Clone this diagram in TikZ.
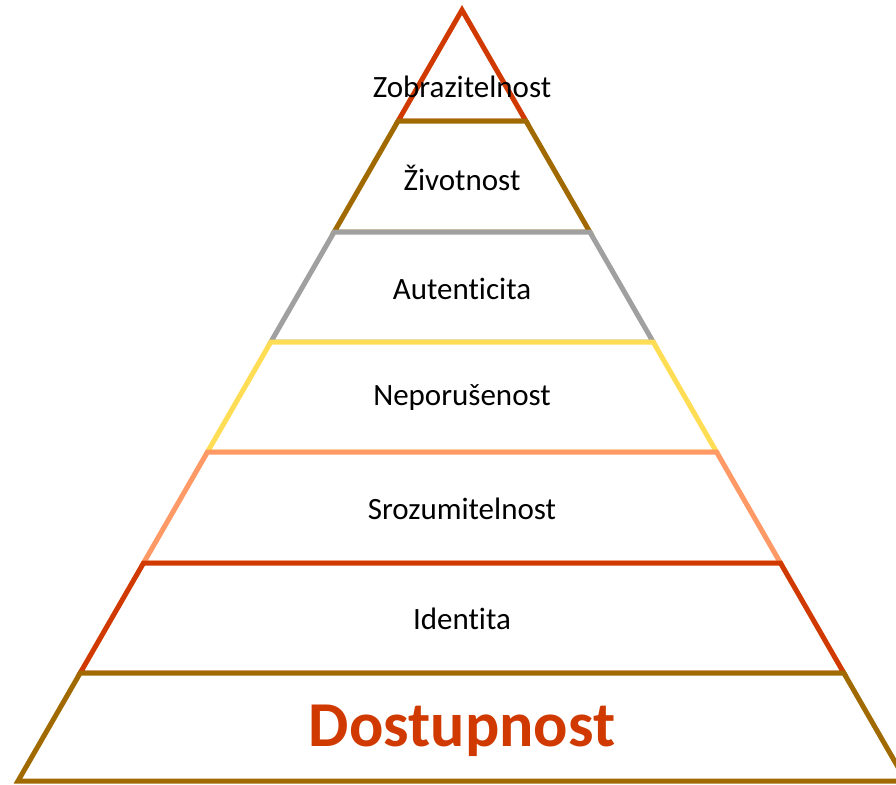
\documentclass[tikz,border=0pt]{standalone}
\usepackage{fontspec}
\setmainfont[Ligatures=NoCommon]{Carlito}
\usetikzlibrary{calc}
\definecolor{rust}{RGB}{208, 58, 0}
\definecolor{bronze}{RGB}{160, 106, 0}
\definecolor{silver}{RGB}{160, 160, 160}
\definecolor{sun}{RGB}{255, 221, 85}
\definecolor{salmon}{RGB}{255, 153, 102}
\tikzset{
    layer/.style={line width=5pt, line join=miter, fill=white},
    lbl/.style={align=center, font=\fontsize{31}{37}\selectfont, inner sep=0pt},
    base/.style={lbl, font=\fontsize{64}{70}\selectfont\bfseries, text=rust}
}

\begin{document}
\begin{tikzpicture}[x=1pt, y=-1pt]
        \useasboundingbox (0,0) rectangle (896,784);
        \coordinate (apex) at (462,10);
        % level edges of the pyramid
        \foreach \i/\y in {1/121, 2/232, 3/342, 4/452, 5/563, 6/673, 7/781}{
            \coordinate (L\i) at ({462-0.5759*(\y-10)},\y);
            \coordinate (R\i) at ({462+0.5759*(\y-10)},\y);
        }

        \draw[layer, draw=rust] (apex)--(R1)--(L1)--cycle;
        \draw[layer, draw=bronze] (L1)--(R1)--(R2)--(L2)--cycle;
        \draw[layer, draw=silver] (L2)--(R2)--(R3)--(L3)--cycle;
        \draw[layer, draw=sun] (L3)--(R3)--(R4)--(L4)--cycle;
        \draw[layer, draw=salmon] (L4)--(R4)--(R5)--(L5)--cycle;
        \draw[layer, draw=rust] (L5)--(R5)--(R6)--(L6)--cycle;
        \draw[layer, draw=bronze] (L6)--(R6)--(R7)--(L7)--cycle;

        \node[lbl] (zobr) at (462,87) {Zobrazitelnost};
        \node[lbl] (ziv) at (462,178) {Životnost};
        \node[lbl] (aut) at (462,289) {Autenticita};
        \node[lbl] (nep) at (462,398) {Neporušenost};
        \node[lbl] (sroz) at (462,509) {Srozumitelnost};
        \node[lbl] (iden) at (462,619) {Identita};
        \node[base] (dost) at (462,731) {Dostupnost};
    \end{tikzpicture}
\end{document}
